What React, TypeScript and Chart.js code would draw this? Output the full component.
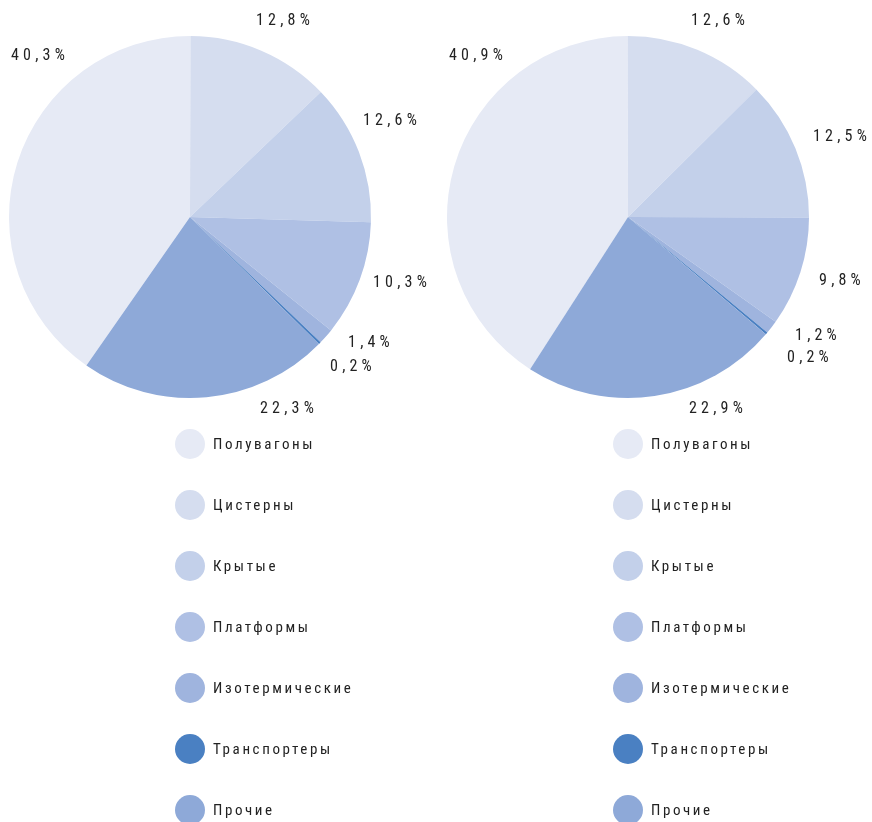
import React, { useEffect, useRef } from "react";
import { Chart, registerables } from "chart.js";
Chart.register(...registerables);

const categories = ["Полувагоны", "Цистерны", "Крытые", "Платформы", "Изотермические", "Транспортеры", "Прочие"];
const seriesLeft = [40.3, 12.8, 12.6, 10.3, 1.4, 0.2, 22.3];
const seriesRight = [40.9, 12.6, 12.5, 9.8, 1.2, 0.2, 22.9];
const colors = ["#e6eaf5", "#d5ddef", "#c3d0ea", "#afc0e4", "#9fb4de", "#4a80c2", "#8ea9d8"];

// label placement relative to pie centre (pixels), style only
const labelOffsetsLeft = [[-152, -162], [93, -197], [200, -97], [210, 65], [179, 125], [161, 149], [97, 191]];
const labelOffsetsRight = [[-152, -162], [90, -197], [212, -81], [212, 63], [188, 118], [180, 140], [88, 191]];

const FONT = '"Liberation Sans Narrow", "Roboto Condensed", Roboto, sans-serif';
const fmt = (v: number) => v.toFixed(1).replace(".", ",") + "%";

const overlayPlugin = {
  id: "overlay",
  afterDraw(chart: any, _args: any, opts: any) {
    const ctx = chart.ctx;
    const meta = chart.getDatasetMeta(0);
    const data = chart.data.datasets[0].data as number[];
    ctx.save();
    ctx.fillStyle = "#222";
    ctx.font = `16px ${FONT}`;
    (ctx as any).letterSpacing = "4.2px";
    ctx.textBaseline = "middle";
    ctx.textAlign = "center";
    meta.data.forEach((arc: any, i: number) => {
      const off = opts.offsets[i];
      ctx.fillText(fmt(data[i]), arc.x + off[0] + 2, arc.y + off[1] + 1);
    });
    // legend
    const cx = meta.data[0].x;
    ctx.font = `15px ${FONT}`;
    (ctx as any).letterSpacing = "2.6px";
    ctx.textAlign = "left";
    chart.data.labels.forEach((lab: string, i: number) => {
      const y = 444 + 61 * i;
      ctx.beginPath();
      ctx.arc(cx, y, 15, 0, Math.PI * 2);
      ctx.fillStyle = colors[i];
      ctx.fill();
      ctx.fillStyle = "#222";
      ctx.fillText(lab, cx + 23, y + 1);
    });
    ctx.restore();
  },
};

function PieCanvas({ values, offsets, left }: { values: number[]; offsets: number[][]; left: number }) {
  const ref = useRef<HTMLCanvasElement>(null);
  useEffect(() => {
    const chart = new Chart(ref.current!, {
      type: "pie",
      data: {
        labels: categories,
        datasets: [{ data: values, backgroundColor: colors, borderWidth: 0 }],
      },
      options: {
        responsive: false,
        animation: false,
        rotation: -values[0] * 3.6,
        layout: { padding: { left: 9, top: 36, right: 65, bottom: 424 } },
        plugins: {
          legend: { display: false },
          tooltip: { enabled: false },
          overlay: { offsets },
        } as any,
      },
      plugins: [overlayPlugin],
    });
    return () => chart.destroy();
  }, []);
  return (
    <canvas
      ref={ref}
      width={436}
      height={822}
      style={{ position: "absolute", left, top: 0, width: 436, height: 822 }}
    />
  );
}

export default function App() {
  return (
    <div style={{ position: "absolute", left: 0, top: 0, width: 872, height: 822, background: "#fff" }}>
      <PieCanvas values={seriesLeft} offsets={labelOffsetsLeft} left={0} />
      <PieCanvas values={seriesRight} offsets={labelOffsetsRight} left={438} />
    </div>
  );
}
